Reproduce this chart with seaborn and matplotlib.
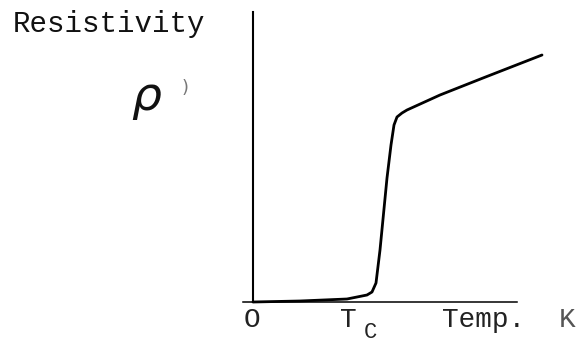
import matplotlib
matplotlib.use("Agg")
import matplotlib.pyplot as plt
import seaborn as sns
import pandas as pd

# Schematic resistivity curve (arbitrary units; origin at the axes' corner)
temperature = [0, 47, 94, 114, 119, 123, 127, 134, 138, 141, 144, 149, 154, 187, 230, 289]
resistivity = [0, 1, 3, 7, 10, 19, 52, 124, 157, 177, 185, 189, 192, 207, 224, 247]

y_label = "Resistivity"
rho_label = "ρ"
origin_label = "O"
tc_label = "T"
tc_sub = "C"
x_label = "Temp."
unit_label = "K"

sns.set_theme(style="white")
plt.rcParams["font.family"] = ["Liberation Mono", "DejaVu Sans Mono"]

df = pd.DataFrame({"T": temperature, "rho": resistivity})

fig = plt.figure(figsize=(5.78, 3.44), dpi=100)
ax = fig.add_axes([0, 0, 1, 1])
sns.lineplot(data=df, x="T", y="rho", ax=ax, color="black", linewidth=2.0,
             estimator=None, sort=False)

ax.set_xlim(-253, 325)
ax.set_ylim(-42, 302)
ax.set_xlabel("")
ax.set_ylabel("")
ax.set_xticks([])
ax.set_yticks([])
ax.patch.set_alpha(0)
fig.patch.set_facecolor("white")

for s in ["top", "right"]:
    ax.spines[s].set_visible(False)
ax.spines["left"].set_position(("data", 0))
ax.spines["bottom"].set_position(("data", 0))
ax.spines["left"].set_bounds(0, 290)
ax.spines["bottom"].set_bounds(-10, 264)
ax.spines["left"].set_color("black")
ax.spines["bottom"].set_color("black")
ax.spines["left"].set_linewidth(1.5)
ax.spines["bottom"].set_linewidth(1.1)

fs = 20
ax.text(-240, 270, y_label, fontsize=21, ha="left", va="baseline", color="#111111")
ax.text(-107, 204, rho_label, fontsize=34, ha="center", va="center",
        family=["DejaVu Sans"], style="italic", color="#111111")
ax.text(-68, 214, ")", fontsize=13, ha="center", va="center",
        family=["DejaVu Sans"], color="#777777")
ax.text(-1, -25, origin_label, fontsize=fs, ha="center", va="baseline", color="#222222")
ax.text(95, -25, tc_label, fontsize=fs, ha="center", va="baseline", color="#222222")
ax.text(117, -41, tc_sub, fontsize=16, ha="center", va="bottom", color="#222222")
ax.text(189, -25, x_label, fontsize=fs, ha="left", va="baseline", color="#222222")
ax.text(306, -25, unit_label, fontsize=fs, ha="left", va="baseline", color="#555555")

fig.savefig("out.png", dpi=100)
